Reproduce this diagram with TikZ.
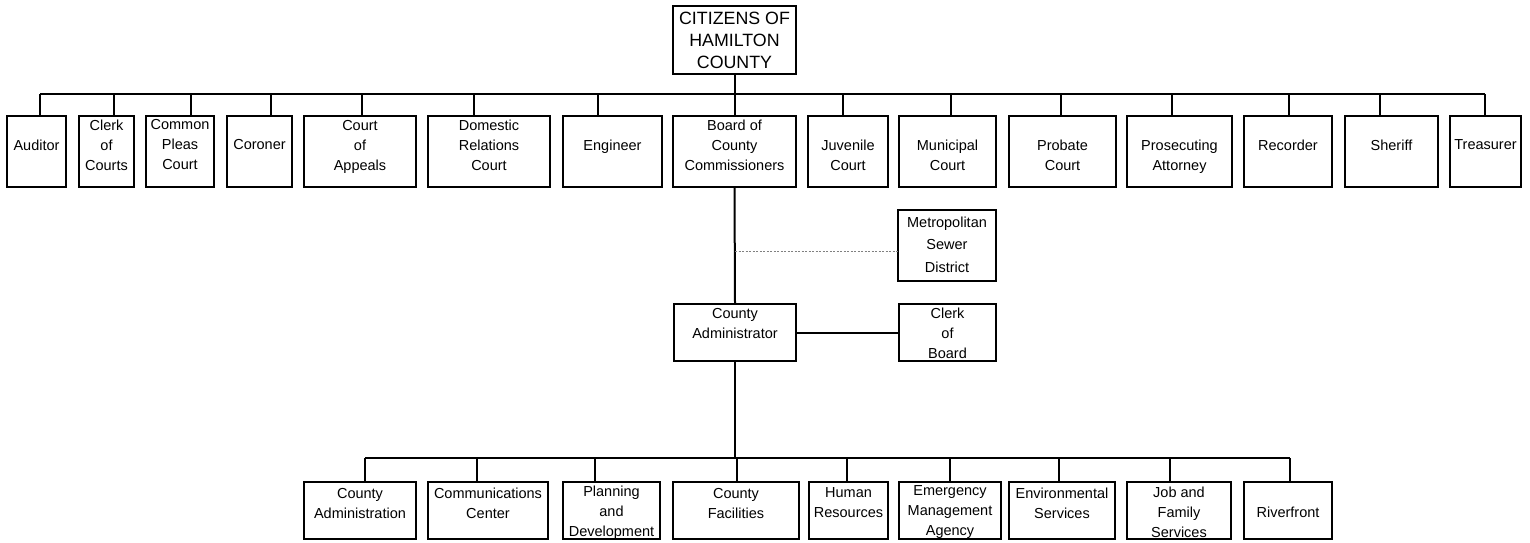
\documentclass[tikz,border=0pt]{standalone}
\usepackage{fontspec}
\setmainfont{Liberation Sans}
\begin{document}
\begin{tikzpicture}[x=1pt,y=-1pt,
  bx/.style={draw=black, line width=2pt, inner sep=0pt, outer sep=0pt, rectangle},
  tx/.style={align=center, inner sep=0pt, font=\fontsize{14.5}{20}\selectfont},
  bigtx/.style={align=center, inner sep=0pt, font=\fontsize{17.8}{22}\selectfont},
  metrotx/.style={align=center, inner sep=0pt, font=\fontsize{14.5}{22.5}\selectfont},
  ln/.style={draw=black, line width=2pt},
  dotline/.style={draw=gray, line width=1pt, dash pattern=on 2pt off 1.5pt}]
\useasboundingbox (0,0) rectangle (1530,542);
\newcommand\orgbox[8][tx]{%
  \node[bx, minimum width={(#4-#3-2)*1pt}, minimum height={(#6-#5-2)*1pt}] (#2) at ({(#3+#4)/2},{(#5+#6)/2}) {};
  \node[#1] (#2t) at ({(#3+#4)/2},#8) {#7};
}
% top
\orgbox[bigtx]{cit}{672}{797}{5}{75}{CITIZENS OF\\HAMILTON\\COUNTY}{40}
% top row
\orgbox{auditor}{6}{67}{115}{188}{Auditor}{145}
\orgbox{clerkcourts}{78}{135}{115}{188}{Clerk\\of\\Courts}{145}
\orgbox{commonpleas}{145}{215}{115}{188}{Common\\Pleas\\Court}{145}
\orgbox{coroner}{226}{293}{115}{188}{Coroner}{145}
\orgbox{appeals}{303}{417}{115}{188}{Court\\of\\Appeals}{147}
\orgbox{domestic}{427}{551}{115}{188}{Domestic\\Relations\\Court}{145}
\orgbox{engineer}{562}{663}{115}{188}{Engineer}{146.5}
\orgbox{board}{672}{797}{115}{188}{Board of\\County\\Commissioners}{145}
\orgbox{juvenile}{807}{889}{115}{188}{Juvenile\\Court}{155}
\orgbox{municipal}{898}{997}{115}{188}{Municipal\\Court}{155}
\orgbox{probate}{1008}{1117}{115}{188}{Probate\\Court}{155}
\orgbox{prosecuting}{1126}{1233}{115}{188}{Prosecuting\\Attorney}{157}
\orgbox{recorder}{1243}{1333}{115}{188}{Recorder}{145}
\orgbox{sheriff}{1344}{1439}{115}{188}{Sheriff}{145}
\orgbox{treasurer}{1449}{1522}{115}{188}{Treasurer}{145}
% middle
\orgbox[metrotx]{metro}{897}{997}{209}{282}{Metropolitan\\Sewer\\District}{244.5}
\orgbox{admin}{673}{797}{303}{362}{County\\Administrator}{323}
\orgbox{clerkboard}{898}{997}{303}{362}{Clerk\\of\\Board}{333}
% bottom row
\orgbox{countyadm}{303}{417}{481}{540}{County\\Administration}{503}
\orgbox{comm}{427}{549}{481}{540}{Communications\\Center}{503}
\orgbox{planning}{562}{661}{481}{540}{Planning\\and\\Development}{512.5}
\orgbox{facilities}{672}{800}{481}{540}{County\\Facilities}{503}
\orgbox{hr}{808}{889}{481}{540}{Human\\Resources}{503}
\orgbox{ema}{898}{1002}{481}{540}{Emergency\\Management\\Agency}{512}
\orgbox{env}{1008}{1116}{481}{540}{Environmental\\Services}{503}
\orgbox{jfs}{1126}{1232}{481}{540}{Job and\\Family\\Services}{512}
\orgbox{river}{1243}{1333}{481}{540}{Riverfront}{512}
% top bus
\coordinate (tbL) at (40,94);
\coordinate (tbR) at (1485,94);
\draw[ln] (tbL) -- (tbR);
\draw[ln] (cit.south) -- (cit.south |- tbL);
\foreach \n/\xx in {auditor/40, clerkcourts/114, commonpleas/191, coroner/271, appeals/362,
  domestic/474, engineer/598, board/735, juvenile/843, municipal/951, probate/1061,
  prosecuting/1172, recorder/1289, sheriff/1380, treasurer/1485}
  \draw[ln] (\xx,94) -- (\xx,94 |- \n.north);
% middle connectors
\draw[ln] (board.south) -- (admin.north);
\draw[dotline] (735,251) -- (735,251 -| metro.west);
\draw[ln] (admin.east |- clerkboard.west) -- (clerkboard.west);
% bottom bus
\coordinate (bbL) at (365,458);
\coordinate (bbR) at (1290,458);
\draw[ln] (bbL) -- (bbR);
\draw[ln] (admin.south) -- (admin.south |- bbL);
\foreach \n/\xx in {countyadm/365, comm/477, planning/595, facilities/737, hr/847,
  ema/950, env/1059, jfs/1170, river/1290}
  \draw[ln] (\xx,458) -- (\xx,458 |- \n.north);
\end{tikzpicture}
\end{document}
